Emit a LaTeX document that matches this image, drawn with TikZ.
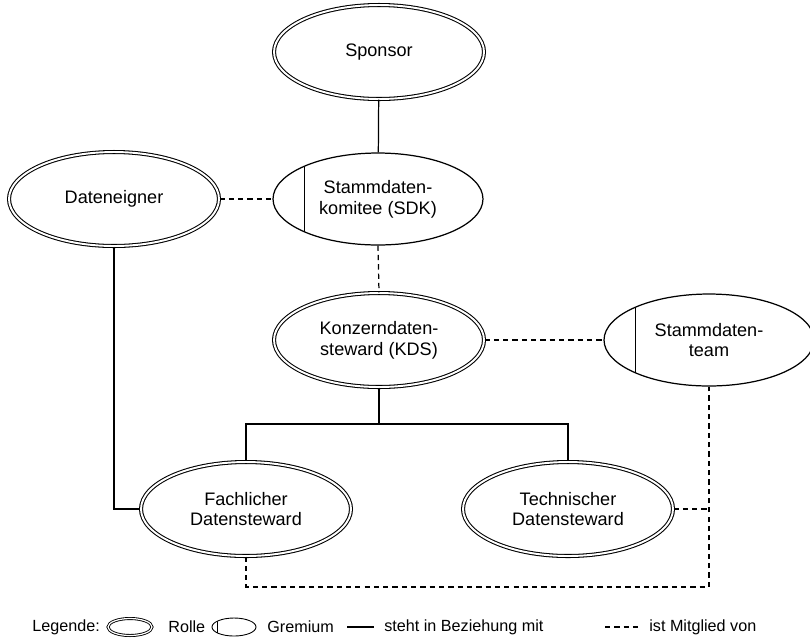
\documentclass[tikz,border=0pt]{standalone}
\usepackage{fontspec}
\setmainfont{Liberation Sans}
\usetikzlibrary{shapes.geometric}
\tikzset{
  rolle/.style = {ellipse, draw, double, double distance = 1.1pt, line width = 0.6pt,
    minimum width = 4.2cm, minimum height = 1.88cm, inner sep = 0pt, align = center,
    font = \fontsize{10.3}{11.8}\selectfont},
  gremium/.style = {ellipse, draw, line width = 0.7pt,
    minimum width = 4.2cm, minimum height = 1.84cm, inner sep = 0pt, align = center,
    font = \fontsize{10.3}{11.8}\selectfont,
    path picture = {\draw [line width = 0.55pt] ([xshift = #1]path picture bounding box.north west) -- ([xshift = #1]path picture bounding box.south west);}},
  gremium/.default = 0.62cm,
  beziehung/.style = {draw, line width = 0.7pt},
  mitglied/.style = {draw, line width = 0.7pt, dash pattern = on 3pt off 2.3pt},
  legtext/.style = {anchor = west, inner sep = 0pt, font = \fontsize{9.2}{11}\selectfont}
}
\begin{document}
\begin{tikzpicture}[x = 0.02cm, y = -0.02cm]
\useasboundingbox (0,0) rectangle (810,640);
% roles and committees
\node [rolle] (spon) at (379,52) {Sponsor};
\node [rolle] (own) at (114,199) {Dateneigner};
\node [gremium] (sdk) at (378,199) {Stammdaten-\\komitee (SDK)};
\node [rolle] (kds) at (379,340) {Konzerndaten-\\steward (KDS)};
\node [gremium] (team) at (709,340) {Stammdaten-\\team};
\node [rolle] (fach) at (246,509) {Fachlicher\\Datensteward};
\node [rolle] (tech) at (568,509) {Technischer\\Datensteward};
\coordinate (bus) at (379,424);
\coordinate (base) at (709,587);
% steht in Beziehung mit
\draw [beziehung] (spon) -- (sdk);
\draw [beziehung] (kds.south) -- (bus);
\draw [beziehung] (bus) -| (fach.north);
\draw [beziehung] (bus) -| (tech.north);
\draw [beziehung] (own.south) |- (fach.west);
% ist Mitglied von
\draw [mitglied] (own.east) -- (sdk.west);
\draw [mitglied] (sdk.south) -- (kds.north);
\draw [mitglied] (kds.east) -- (team.west);
\draw [mitglied] (tech.east) -- (tech.east -| base);
\draw [mitglied] (fach.south) |- (base) -- (team.south);
% legend
\node [legtext] (leg) at (32,627) {Legende:};
\node [ellipse, draw, double, double distance = 0.7pt, line width = 0.5pt, minimum width = 0.88cm, minimum height = 0.34cm, inner sep = 0pt] (legrolle) at (130,627) {};
\node [legtext] (rolle) at (168,627) {Rolle};
\node [gremium = 0.11cm, line width = 0.5pt, minimum width = 0.88cm, minimum height = 0.36cm] (leggrem) at (234,627) {};
\node [legtext] (grem) at (267,627) {Gremium};
\coordinate (ls) at (347,627);
\coordinate (le) at (374,627);
\draw [beziehung] (ls) -- (le);
\node [legtext] (bez) at (384,627) {steht in Beziehung mit};
\coordinate (ms) at (605,627);
\coordinate (me) at (641,627);
\draw [mitglied] (ms) -- (me);
\node [legtext] (mit) at (649,627) {ist Mitglied von};
\end{tikzpicture}
\end{document}
